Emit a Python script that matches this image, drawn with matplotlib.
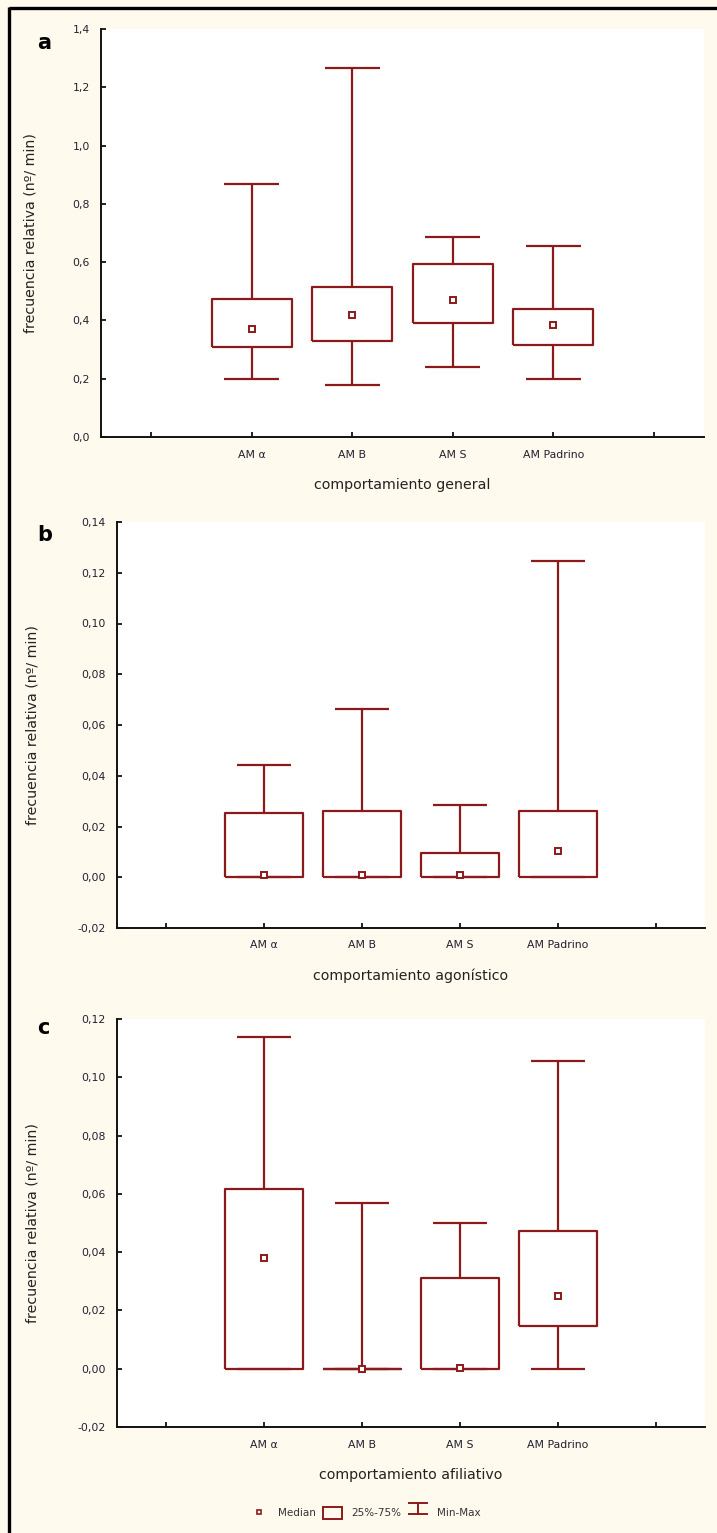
import numpy as np
import matplotlib
matplotlib.use("Agg")
import matplotlib.pyplot as plt
from matplotlib.lines import Line2D
from matplotlib.patches import Rectangle
from matplotlib.legend_handler import HandlerBase
from matplotlib.ticker import FuncFormatter

categories = ['AM α', 'AM B', 'AM S', 'AM Padrino']

# a - comportamiento general
gen_min = [0.20, 0.18, 0.24, 0.20]
gen_q1 = [0.31, 0.33, 0.39, 0.315]
gen_med = [0.37, 0.42, 0.47, 0.385]
gen_q3 = [0.475, 0.516, 0.592, 0.44]
gen_max = [0.867, 1.265, 0.687, 0.655]

# b - comportamiento agonistico
ago_min = [0.0, 0.0, 0.0, 0.0]
ago_q1 = [0.0, 0.0, 0.0, 0.0]
ago_med = [0.001, 0.001, 0.001, 0.0105]
ago_q3 = [0.0253, 0.026, 0.0095, 0.026]
ago_max = [0.0441, 0.0662, 0.0284, 0.1245]

# c - comportamiento afiliativo
afi_min = [0.0, 0.0, 0.0, 0.0]
afi_q1 = [0.0, 0.0, 0.0, 0.0147]
afi_med = [0.038, 0.0, 0.0003, 0.025]
afi_q3 = [0.0617, 0.0, 0.031, 0.0473]
afi_max = [0.1138, 0.057, 0.050, 0.1055]

red = '#8c1a1a'
bg = '#fff9ee'
txt = '#202030'

fig = plt.figure(figsize=(7.17, 15.33), dpi=100, facecolor=bg)
plt.rcParams['font.family'] = ['DejaVu Sans']

W, H = 717.0, 1533.0


def ax_rect(l, r, t, b):
    return [l / W, 1 - b / H, (r - l) / W, (b - t) / H]


def comma(dec):
    return FuncFormatter(lambda v, p: ('%.*f' % (dec, v)).replace('.', ','))


def panel(rect, mins, q1s, meds, q3s, maxs, ylim, ystep, dec, xlabel, letter, ylab_x):
    ax = fig.add_axes(rect)
    ax.set_facecolor('white')
    stats = []
    for i in range(len(categories)):
        stats.append(dict(whislo=mins[i], q1=q1s[i], med=meds[i], q3=q3s[i],
                          whishi=maxs[i], fliers=[]))
    pos = np.arange(1, len(categories) + 1)
    lp = dict(color=red, linewidth=1.6, solid_capstyle='butt')
    ax.bxp(stats, positions=pos, widths=0.8, capwidths=0.55, showfliers=False,
           boxprops=lp, whiskerprops=lp, capprops=lp,
           medianprops=dict(linewidth=0))
    ax.plot(pos, meds, 's', ms=3.8, mfc='white', mec=red, mew=1.4, zorder=5)
    ax.set_xlim(-0.5, 5.5)
    ax.set_ylim(*ylim)
    ax.set_xticks(np.arange(0, 6))
    ax.set_xticklabels([''] + categories + [''])
    ax.set_yticks(np.arange(ylim[0], ylim[1] + ystep / 2, ystep))
    ax.yaxis.set_major_formatter(comma(dec))
    for s in ['top', 'right']:
        ax.spines[s].set_visible(False)
    for s in ['left', 'bottom']:
        ax.spines[s].set_linewidth(1.4)
        ax.spines[s].set_color('#111111')
    ax.tick_params(direction='in', length=3.5, width=1.3, colors='#111111',
                   labelsize=7.8, labelcolor=txt)
    ax.tick_params(axis='x', pad=9)
    ax.tick_params(axis='y', pad=8)
    ax.set_xlabel(xlabel, fontsize=10.2, color='#222222', labelpad=13)
    ax.set_ylabel('frecuencia relativa (nº/ min)', fontsize=10.2, color='#222222')
    ax.yaxis.set_label_coords((ylab_x - rect[0] * W) / (rect[2] * W), 0.5)
    fig.text(37 / W, 1 - letter[1] / H, letter[0], fontsize=15, fontweight='bold',
             va='center', ha='left', color='black')
    return ax


panel(ax_rect(101, 704, 29, 437), gen_min, gen_q1, gen_med, gen_q3, gen_max,
      (0.0, 1.4), 0.2, 1, 'comportamiento general', ('a', 43), 38)
panel(ax_rect(117, 705, 522, 928), ago_min, ago_q1, ago_med, ago_q3, ago_max,
      (-0.02, 0.14), 0.02, 2, 'comportamiento agonístico', ('b', 535), 40)
panel(ax_rect(117, 705, 1019, 1427), afi_min, afi_q1, afi_med, afi_q3, afi_max,
      (-0.02, 0.12), 0.02, 2, 'comportamiento afiliativo', ('c', 1028), 40)


class MinMaxHandler(HandlerBase):
    def create_artists(self, legend, orig, x0, y0, width, height, fontsize, trans):
        cx = x0 + width / 2
        w = width * 0.9
        lines = [
            Line2D([cx - w / 2, cx + w / 2], [y0 + height, y0 + height]),
            Line2D([cx - w / 2, cx + w / 2], [y0, y0]),
            Line2D([cx, cx], [y0, y0 + height]),
        ]
        for ln in lines:
            ln.set_color(red)
            ln.set_linewidth(1.4)
            ln.set_transform(trans)
        return lines


h_med = Line2D([], [], marker='s', ls='none', ms=3, mfc='white', mec=red, mew=1.2)
h_box = Rectangle((0, 0), 1, 1, fc='none', ec=red, lw=1.4)
h_mm = Line2D([], [])
leg = fig.legend([h_med, h_box, h_mm], ['Median', '25%-75%', 'Min-Max'],
                 handler_map={h_mm: MinMaxHandler()},
                 loc='center', bbox_to_anchor=(365 / W, 1 - 1513 / H), ncol=3,
                 frameon=False, fontsize=7.5, handlelength=1.9, handleheight=1.3,
                 handletextpad=0.9, columnspacing=0.6)
for t in leg.get_texts():
    t.set_color('#333333')

# black border top and left
fig.add_artist(Line2D([9 / W, 1.0], [1 - 7.5 / H, 1 - 7.5 / H], color='black', lw=2.4,
                      solid_capstyle='butt', transform=fig.transFigure))
fig.add_artist(Line2D([9 / W, 9 / W], [0.0, 1 - 6.5 / H], color='black', lw=2.4,
                      solid_capstyle='butt', transform=fig.transFigure))

fig.savefig('out.png', dpi=100, facecolor=bg)
plt.close(fig)
